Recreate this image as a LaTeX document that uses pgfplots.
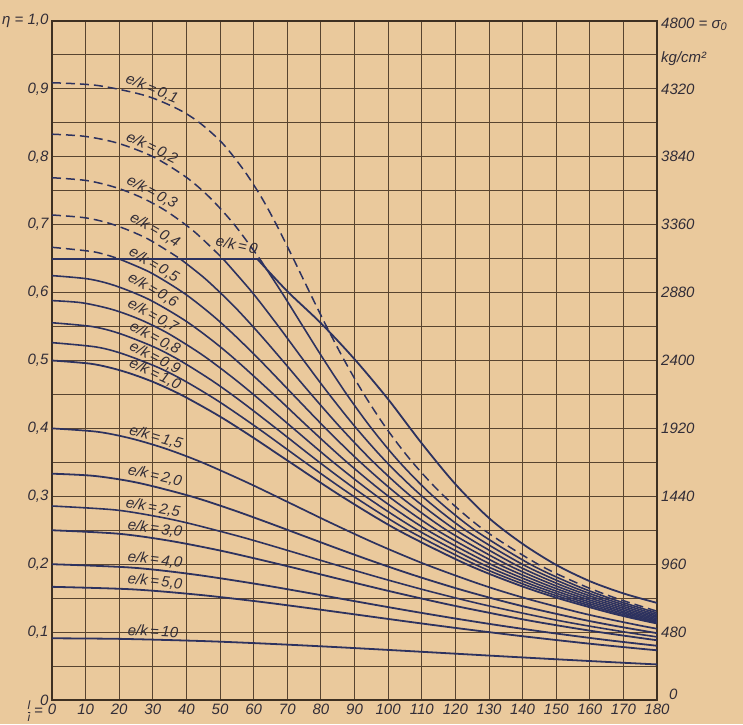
\documentclass[border=0pt]{standalone}
\usepackage{fontspec}
\setmainfont{Liberation Sans}
\usepackage{pgfplots}
\pgfplotsset{compat=1.18}
\definecolor{paper}{RGB}{234,201,156}
\definecolor{gridc}{RGB}{88,68,48}
\definecolor{curve}{RGB}{45,50,95}
\definecolor{ink}{RGB}{50,45,55}
\newcommand\lab{\fontsize{15}{15}\selectfont\itshape}
\newcommand\ek[1]{e/k\,=\,#1}
\begin{document}
\begin{tikzpicture}
\fill[paper] (-52pt,-24pt) rectangle (691pt,700pt);
\useasboundingbox (-52pt,-24pt) rectangle (691pt,700pt);
\begin{axis}[
  at={(0pt,0pt)}, anchor=south west,
  scale only axis, width=605pt, height=679pt,
  xmin=0, xmax=180, ymin=0, ymax=1,
  clip mode=individual,
  xtick={0,10,20,30,40,50,60,70,80,90,100,110,120,130,140,150,160,170,180},
  xticklabels={0,10,20,30,40,50,60,70,80,90,100,110,120,130,140,150,160,170,180},
  ytick={0,0.1,0.2,0.3,0.4,0.5,0.6,0.7,0.8,0.9,1},
  yticklabels={0,{0,1},{0,2},{0,3},{0,4},{0,5},{0,6},{0,7},{0,8},{0,9},{η = 1,0}},
  minor ytick={0.05,0.15,0.25,0.35,0.45,0.55,0.65,0.75,0.85,0.95},
  grid=both,
  major grid style={gridc, line width=0.9pt},
  minor grid style={gridc, line width=0.9pt},
  axis line style={gridc!70!black, line width=1.5pt},
  major tick length=0pt, minor tick length=0pt,
  tick label style={font=\lab, text=ink},
]
% e/k = 0
\addplot[curve, line width=1.8pt] coordinates {(0,0.65)(61,0.65)};
\addplot[curve, line width=1.8pt, smooth] coordinates {(61,0.65)(70,0.602)(80,0.555)(90,0.502)(100,0.443)(110,0.378)(120,0.318)(130,0.268)(140,0.230)(150,0.199)(160,0.175)(170,0.157)(180,0.143)};
% e/k = 0.1
\addplot[curve, line width=1.5pt, dash pattern=on 9pt off 5pt, smooth] coordinates {(0,0.9091)(13.59,0.905)(27.86,0.89)(37.57,0.87)(43.94,0.85)(50.71,0.82)(57.12,0.78)(62.35,0.74)(66.77,0.70)(71.80,0.65)(76.70,0.60)(81.69,0.55)(87.00,0.50)(92.85,0.45)(99.49,0.40)(107.26,0.35)(116.70,0.30)(128.64,0.25)(144.60,0.20)(157.30,0.17)(167.77,0.15)(180.52,0.13)};
% e/k = 0.2
\addplot[curve, line width=1.5pt, dash pattern=on 9pt off 5pt, smooth] coordinates {(0,0.8333)(9.97,0.83)(19.63,0.82)(30.10,0.80)(39.91,0.77)(46.94,0.74)(54.26,0.70)(61.76,0.65)};
\addplot[curve, line width=1.6pt, smooth] coordinates {(61.76,0.65)(68.38,0.60)(74.68,0.55)(81.02,0.50)(87.71,0.45)(95.06,0.40)(103.44,0.35)(113.42,0.30)(125.84,0.25)(142.26,0.20)(155.21,0.17)(165.85,0.15)(178.78,0.13)(182.48,0.125)};
% e/k = 0.3
\addplot[curve, line width=1.5pt, dash pattern=on 9pt off 5pt, smooth] coordinates {(0,0.7692)(10.36,0.765)(18.83,0.755)(26.62,0.74)(34.01,0.72)(42.28,0.69)(50.84,0.65)};
\addplot[curve, line width=1.6pt, smooth] coordinates {(50.84,0.65)(59.62,0.60)(67.43,0.55)(74.90,0.50)(82.49,0.45)(90.58,0.40)(99.60,0.35)(110.13,0.30)(123.04,0.25)(139.91,0.20)(153.13,0.17)(163.94,0.15)(177.05,0.13)(180.78,0.125)};
% e/k = 0.4
\addplot[curve, line width=1.5pt, dash pattern=on 9pt off 5pt, smooth] coordinates {(0,0.7143)(10.11,0.71)(18.36,0.70)(28.15,0.68)(38.05,0.65)};
\addplot[curve, line width=1.6pt, smooth] coordinates {(38.05,0.65)(45.68,0.62)(54.14,0.58)(61.59,0.54)(68.58,0.50)(77.16,0.45)(86.05,0.40)(95.72,0.35)(106.81,0.30)(120.24,0.25)(137.56,0.20)(151.05,0.17)(162.04,0.15)(175.31,0.13)(183.10,0.12)};
% e/k = 0.5
\addplot[curve, line width=1.5pt, dash pattern=on 9pt off 5pt, smooth] coordinates {(0,0.6667)(12.52,0.66)(19.73,0.65)};
\addplot[curve, line width=1.6pt, smooth] coordinates {(19.73,0.65)(29.10,0.63)(39.03,0.60)(46.89,0.57)(53.72,0.54)(61.95,0.50)(71.66,0.45)(81.42,0.40)(91.80,0.35)(103.47,0.30)(117.42,0.25)(135.22,0.20)(148.96,0.17)(160.13,0.15)(173.57,0.13)(181.45,0.12)};
% e/k = 0.6
\addplot[curve, line width=1.6pt, smooth] coordinates {(0,0.625)(10.92,0.62)(18.89,0.61)(28.81,0.59)(39.24,0.56)(47.56,0.53)(54.86,0.50)(65.96,0.45)(76.68,0.40)(87.81,0.35)(100.11,0.30)(114.57,0.25)(132.85,0.20)(146.87,0.17)(158.22,0.15)(171.83,0.13)(179.80,0.12)(184.15,0.115)};
% e/k = 0.7
\addplot[curve, line width=1.6pt, smooth] coordinates {(0,0.5882)(8.92,0.585)(18.03,0.575)(26.36,0.56)(34.51,0.54)(44.20,0.51)(52.42,0.48)(59.93,0.45)(71.79,0.40)(83.74,0.35)(96.70,0.30)(111.73,0.25)(130.48,0.20)(144.77,0.17)(156.30,0.15)(170.09,0.13)(178.15,0.12)(182.53,0.115)};
% e/k = 0.8
\addplot[curve, line width=1.6pt, smooth] coordinates {(0,0.5556)(11.91,0.55)(19.96,0.54)(30.30,0.52)(38.07,0.50)(47.72,0.47)(56.20,0.44)(66.69,0.40)(79.59,0.35)(93.25,0.30)(108.84,0.25)(128.10,0.20)(142.67,0.17)(154.37,0.15)(168.35,0.13)(176.50,0.12)(180.93,0.115)};
% e/k = 0.9
\addplot[curve, line width=1.6pt, smooth] coordinates {(0,0.5263)(13.00,0.52)(20.95,0.51)(31.45,0.49)(39.46,0.47)(49.53,0.44)(61.34,0.40)(75.30,0.35)(89.73,0.30)(105.93,0.25)(125.71,0.20)(140.56,0.17)(152.44,0.15)(166.60,0.13)(174.84,0.12)(184.08,0.11)};
% e/k = 1.0
\addplot[curve, line width=1.8pt, smooth] coordinates {(0,0.5)(11.86,0.495)(20.60,0.485)(29.31,0.47)(38.20,0.45)(49.12,0.42)(58.76,0.39)(70.87,0.35)(86.14,0.30)(102.99,0.25)(123.30,0.20)(138.44,0.17)(150.50,0.15)(164.85,0.13)(173.17,0.12)(182.50,0.11)};
% e/k = 1.5
\addplot[curve, line width=1.7pt, smooth] coordinates {(0,0.4)(13.55,0.395)(23.66,0.385)(33.90,0.37)(44.59,0.35)(58.21,0.32)(70.80,0.29)(83.33,0.26)(96.49,0.23)(110.98,0.20)(127.69,0.17)(140.73,0.15)(156.02,0.13)(164.82,0.12)(174.61,0.11)(179.95,0.105)(185.65,0.10)};
% e/k = 2.0
\addplot[curve, line width=1.8pt, smooth] coordinates {(0,0.3333)(12.60,0.33)(25.49,0.32)(41.33,0.30)(53.74,0.28)(64.94,0.26)(75.76,0.24)(86.65,0.22)(97.96,0.20)(110.07,0.18)(123.40,0.16)(138.53,0.14)(156.34,0.12)(166.62,0.11)(178.15,0.10)(184.49,0.095)};
% e/k = 2.5
\addplot[curve, line width=1.6pt, smooth] coordinates {(0,0.2857)(18.68,0.28)(31.45,0.27)(40.89,0.26)(56.43,0.24)(70.30,0.22)(83.79,0.20)(97.61,0.18)(112.38,0.16)(128.74,0.14)(147.69,0.12)(158.51,0.11)(170.56,0.10)(177.16,0.095)(184.21,0.09)};
% e/k = 3.0
\addplot[curve, line width=1.8pt, smooth] coordinates {(0,0.25)(19.50,0.245)(34.41,0.235)(50.13,0.22)(67.60,0.20)(84.00,0.18)(100.67,0.16)(118.58,0.14)(138.77,0.12)(150.22,0.11)(162.84,0.10)(177.04,0.09)(181.67,0.087)};
% e/k = 4.0
\addplot[curve, line width=1.8pt, smooth] coordinates {(0,0.2)(23.67,0.195)(42.06,0.185)(61.95,0.17)(79.37,0.155)(96.34,0.14)(107.92,0.13)(120.03,0.12)(132.89,0.11)(146.88,0.10)(162.31,0.09)(170.76,0.085)(179.78,0.08)(183.60,0.078)};
% e/k = 5.0
\addplot[curve, line width=1.8pt, smooth] coordinates {(0,0.1667)(23.81,0.163)(43.55,0.155)(61.38,0.145)(76.92,0.135)(91.72,0.125)(106.53,0.115)(121.88,0.105)(138.18,0.095)(156.07,0.085)(165.80,0.08)(176.15,0.075)(182.78,0.072)};
% e/k = 10
\addplot[curve, line width=1.8pt, smooth] coordinates {(0,0.0909)(20.69,0.09)(43.70,0.087)(59.19,0.084)(76.39,0.08)(91.81,0.076)(106.43,0.072)(120.81,0.068)(135.25,0.064)(150.03,0.06)(165.43,0.056)(177.50,0.053)(181.63,0.052)};

% curve labels
\begin{scope}[every node/.style={font=\lab, text=ink, inner sep=0pt}]
\node[rotate=-22] at (axis cs:29.75,0.900) {\ek{0,1}};
\node[rotate=-26] at (axis cs:29.75,0.813) {\ek{0,2}};
\node[rotate=-28] at (axis cs:29.75,0.748) {\ek{0,3}};
\node[rotate=-30] at (axis cs:30.65,0.692) {\ek{0,4}};
\node[rotate=-30] at (axis cs:30.35,0.641) {\ek{0,5}};
\node[rotate=-30] at (axis cs:30.05,0.604) {\ek{0,6}};
\node[rotate=-29] at (axis cs:30.05,0.566) {\ek{0,7}};
\node[rotate=-28] at (axis cs:30.65,0.533) {\ek{0,8}};
\node[rotate=-27] at (axis cs:30.65,0.504) {\ek{0,9}};
\node[rotate=-25] at (axis cs:30.65,0.480) {\ek{1,0}};
\node[rotate=-16] at (axis cs:30.94,0.387) {\ek{1,5}};
\node[rotate=-13] at (axis cs:30.65,0.330) {\ek{2,0}};
\node[rotate=-10] at (axis cs:30.05,0.283) {\ek{2,5}};
\node[rotate=-8] at (axis cs:30.65,0.252) {\ek{3,0}};
\node[rotate=-7] at (axis cs:30.65,0.206) {\ek{4,0}};
\node[rotate=-6] at (axis cs:30.65,0.174) {\ek{5,0}};
\node[rotate=-3] at (axis cs:30.05,0.1016) {\ek{10}};
\node[rotate=-12] at (axis cs:55.0,0.670) {\ek{0}};
\end{scope}

% right-hand stress scale
\begin{scope}[every node/.style={font=\lab, text=ink, anchor=west, inner sep=0pt, xshift=4pt}]
\node at (axis cs:180,0.995) {4800 = σ\raisebox{-0.35ex}{\fontsize{11}{11}\selectfont 0}};
\node at (axis cs:180,0.944) {kg/cm²};
\node at (axis cs:180,0.9) {4320};
\node at (axis cs:180,0.8) {3840};
\node at (axis cs:180,0.7) {3360};
\node at (axis cs:180,0.6) {2880};
\node at (axis cs:180,0.5) {2400};
\node at (axis cs:180,0.4) {1920};
\node at (axis cs:180,0.3) {1440};
\node at (axis cs:180,0.2) {960};
\node at (axis cs:180,0.1) {480};
\node[xshift=8pt] at (axis cs:180,0.008) {0};
\end{scope}
\node[font=\lab, text=ink, anchor=east, inner sep=0pt] at ([xshift=-9pt,yshift=-11pt]axis cs:0,0) {$\frac{\hbox{\fontsize{12}{12}\selectfont\itshape l}}{\hbox{\fontsize{12}{12}\selectfont\itshape i}}$\,=};
\end{axis}
\end{tikzpicture}
\end{document}
